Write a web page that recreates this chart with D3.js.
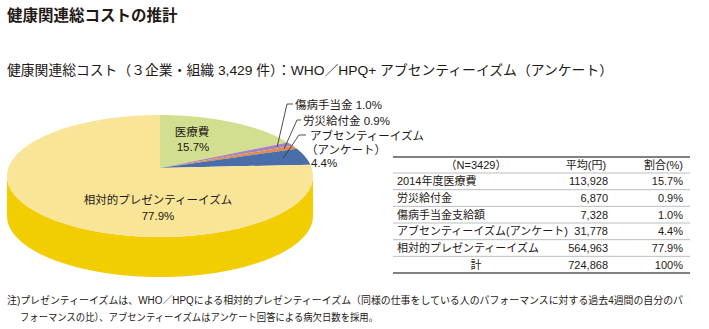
<!DOCTYPE html>
<html><head><meta charset="utf-8">
<script src="https://cdn.jsdelivr.net/npm/d3@7"></script>
<style>body{margin:0;background:#fff}svg{display:block}text{font-family:"Liberation Sans","Noto Sans CJK JP",sans-serif;fill:#231815}</style>
</head><body><svg id="c" width="709" height="329"></svg>
<script>
// ---- data ----
const pieLabels = ["医療費", "傷病手当金", "労災給付金", "アブセンティーイズム（アンケート）", "相対的プレゼンティーイズム"];
const pieShares = [15.7, 1.0, 0.9, 4.4, 77.9];
const pieColors = ["#d3df90", "#a583c2", "#e38c48", "#4a6ea9", "#f9e597"];
const sideColors = ["#b9c46c", "#8a68a6", "#c9702f", "#34558a", "#f1cd02"];

const tableHeader = ["（N=3429）", "平均(円)", "割合(%)"];
const tableRows = ["2014年度医療費", "労災給付金", "傷病手当金支給額", "アブセンティーイズム(アンケート)", "相対的プレゼンティーイズム"];
const tableValues = [113928, 6870, 7328, 31778, 564963];
const tablePcts = [15.7, 0.9, 1.0, 4.4, 77.9];
const totalLabel = "計";
const totalValue = 724868;
const totalPct = 100;

const title = "健康関連総コストの推計";
const subtitle = "健康関連総コスト（３企業・組織 3,429 件）：WHO／HPQ+ アブセンティーイズム（アンケート）";
const note1 = "注)プレゼンティーイズムは、WHO／HPQによる相対的プレゼンティーイズム（同様の仕事をしている人のパフォーマンスに対する過去4週間の自分のパ";
const note2 = "フォーマンスの比）、アブセンティーイズムはアンケート回答による病欠日数を採用。";

// ---- drawing ----
const svg = d3.select("#c");
svg.append("text").attr("x", 7).attr("y", 21).attr("font-size", 15.5).attr("font-weight", "bold").text(title);
svg.append("text").attr("x", 7).attr("y", 75).attr("font-size", 13.5).attr("textLength", 606).attr("lengthAdjust", "spacingAndGlyphs").text(subtitle);

const cx = 160, cy = 176, rx = 153, ry = 61, depth = 40, vx = 160, vy = 168;
const ex = a => cx + rx * Math.sin(a);
const ey = a => cy - ry * Math.cos(a);
const arcs = d3.pie().sort(null).value(d => d)(pieShares);
const line = d3.line();
function arcPts(s, e, dy) {
  const n = Math.max(2, Math.ceil((e - s) / 0.02));
  return d3.range(n + 1).map(i => { const a = s + (e - s) * i / n; return [ex(a), ey(a) + dy]; });
}
const g = svg.append("g");
// sides
arcs.forEach((d, i) => {
  const s = Math.max(d.startAngle, Math.PI / 2), e = Math.min(d.endAngle, 3 * Math.PI / 2);
  if (e <= s) return;
  const pts = arcPts(s, e, 0).concat(arcPts(s, e, depth).reverse());
  g.append("path").attr("d", line(pts) + "Z").attr("fill", sideColors[i]);
});
// tops
arcs.forEach((d, i) => {
  const pts = [[vx, vy]].concat(arcPts(d.startAngle, d.endAngle, 0));
  g.append("path").attr("d", line(pts) + "Z").attr("fill", pieColors[i]);
});

const fmtPct = v => d3.format(".1f")(v) + "%";
// inside labels
svg.append("text").attr("x", 192).attr("y", 136).attr("font-size", 11.5).attr("text-anchor", "middle").text(pieLabels[0]);
svg.append("text").attr("x", 193).attr("y", 151).attr("font-size", 11.5).attr("text-anchor", "middle").text(fmtPct(pieShares[0]));
svg.append("text").attr("x", 158).attr("y", 204).attr("font-size", 11.5).attr("text-anchor", "middle").text(pieLabels[4]);
svg.append("text").attr("x", 158).attr("y", 220).attr("font-size", 11.5).attr("text-anchor", "middle").text(fmtPct(pieShares[4]));

// callouts
function wedgePt(d, f) {
  const a = (d.startAngle + d.endAngle) / 2;
  return [vx + f * (ex(a) - vx), vy + f * (ey(a) - vy)];
}
const callouts = [
  {i: 1, f: 0.9, bend: [287, 104], end: [293, 104]},
  {i: 2, f: 0.92, bend: [297, 120], end: [301, 120]},
  {i: 3, f: 0.85, bend: [299, 135], end: [306, 135]}
];
callouts.forEach(c => {
  const p = wedgePt(arcs[c.i], c.f);
  svg.append("path").attr("d", line([p, c.bend, c.end])).attr("fill", "none").attr("stroke", "#3e3a39").attr("stroke-width", 0.9);
});
svg.append("text").attr("x", 295).attr("y", 109).attr("font-size", 11.5).text(pieLabels[1] + " " + fmtPct(pieShares[1]));
svg.append("text").attr("x", 303).attr("y", 125).attr("font-size", 11.5).text(pieLabels[2] + " " + fmtPct(pieShares[2]));
svg.append("text").attr("x", 310).attr("y", 140).attr("font-size", 11.5).text("アブセンティーイズム");
svg.append("text").attr("x", 306).attr("y", 154).attr("font-size", 11.5).text("（アンケート）");
svg.append("text").attr("x", 311).attr("y", 167).attr("font-size", 11.5).text(fmtPct(pieShares[3]));

// table
const tx0 = 393, tx1 = 690, colLabel = 397, colMid = 476, colVal = 608, colPct = 683;
const yTop = 157, yHead = 173, yBot = 273;
const rowY = d3.scaleLinear().domain([0, 6]).range([yHead, yBot]);
const tg = svg.append("g").attr("font-size", 11);
tg.append("line").attr("x1", tx0).attr("x2", tx1).attr("y1", yTop).attr("y2", yTop).attr("stroke", "#595757").attr("stroke-width", 1.6);
tg.append("line").attr("x1", tx0).attr("x2", tx1).attr("y1", yBot).attr("y2", yBot).attr("stroke", "#595757").attr("stroke-width", 1.6);
d3.range(0, 6).forEach(k => {
  tg.append("line").attr("x1", tx0).attr("x2", tx1).attr("y1", rowY(k)).attr("y2", rowY(k)).attr("stroke", "#9fa0a0").attr("stroke-width", 0.7);
});
const hy = (yTop + yHead) / 2 + 4;
tg.append("text").attr("x", colMid).attr("y", hy).attr("text-anchor", "middle").text(tableHeader[0]);
tg.append("text").attr("x", 586).attr("y", hy).attr("text-anchor", "middle").text(tableHeader[1]);
tg.append("text").attr("x", colPct).attr("y", hy).attr("text-anchor", "end").text(tableHeader[2]);
const fmtNum = d3.format(",");
tableRows.forEach((r, k) => {
  const y = (rowY(k) + rowY(k + 1)) / 2 + 4;
  tg.append("text").attr("x", colLabel).attr("y", y).text(r);
  tg.append("text").attr("x", colVal).attr("y", y).attr("text-anchor", "end").text(fmtNum(tableValues[k]));
  tg.append("text").attr("x", colPct).attr("y", y).attr("text-anchor", "end").text(fmtPct(tablePcts[k]));
});
const ty = (rowY(5) + rowY(6)) / 2 + 4;
tg.append("text").attr("x", colMid).attr("y", ty).attr("text-anchor", "middle").text(totalLabel);
tg.append("text").attr("x", colVal).attr("y", ty).attr("text-anchor", "end").text(fmtNum(totalValue));
tg.append("text").attr("x", colPct).attr("y", ty).attr("text-anchor", "end").text(totalPct + "%");

// notes
svg.append("text").attr("x", 7).attr("y", 304).attr("font-size", 10).attr("textLength", 676).attr("lengthAdjust", "spacingAndGlyphs").text(note1);
svg.append("text").attr("x", 20).attr("y", 321).attr("font-size", 10).attr("textLength", 358).attr("lengthAdjust", "spacingAndGlyphs").text(note2);
</script></body></html>
